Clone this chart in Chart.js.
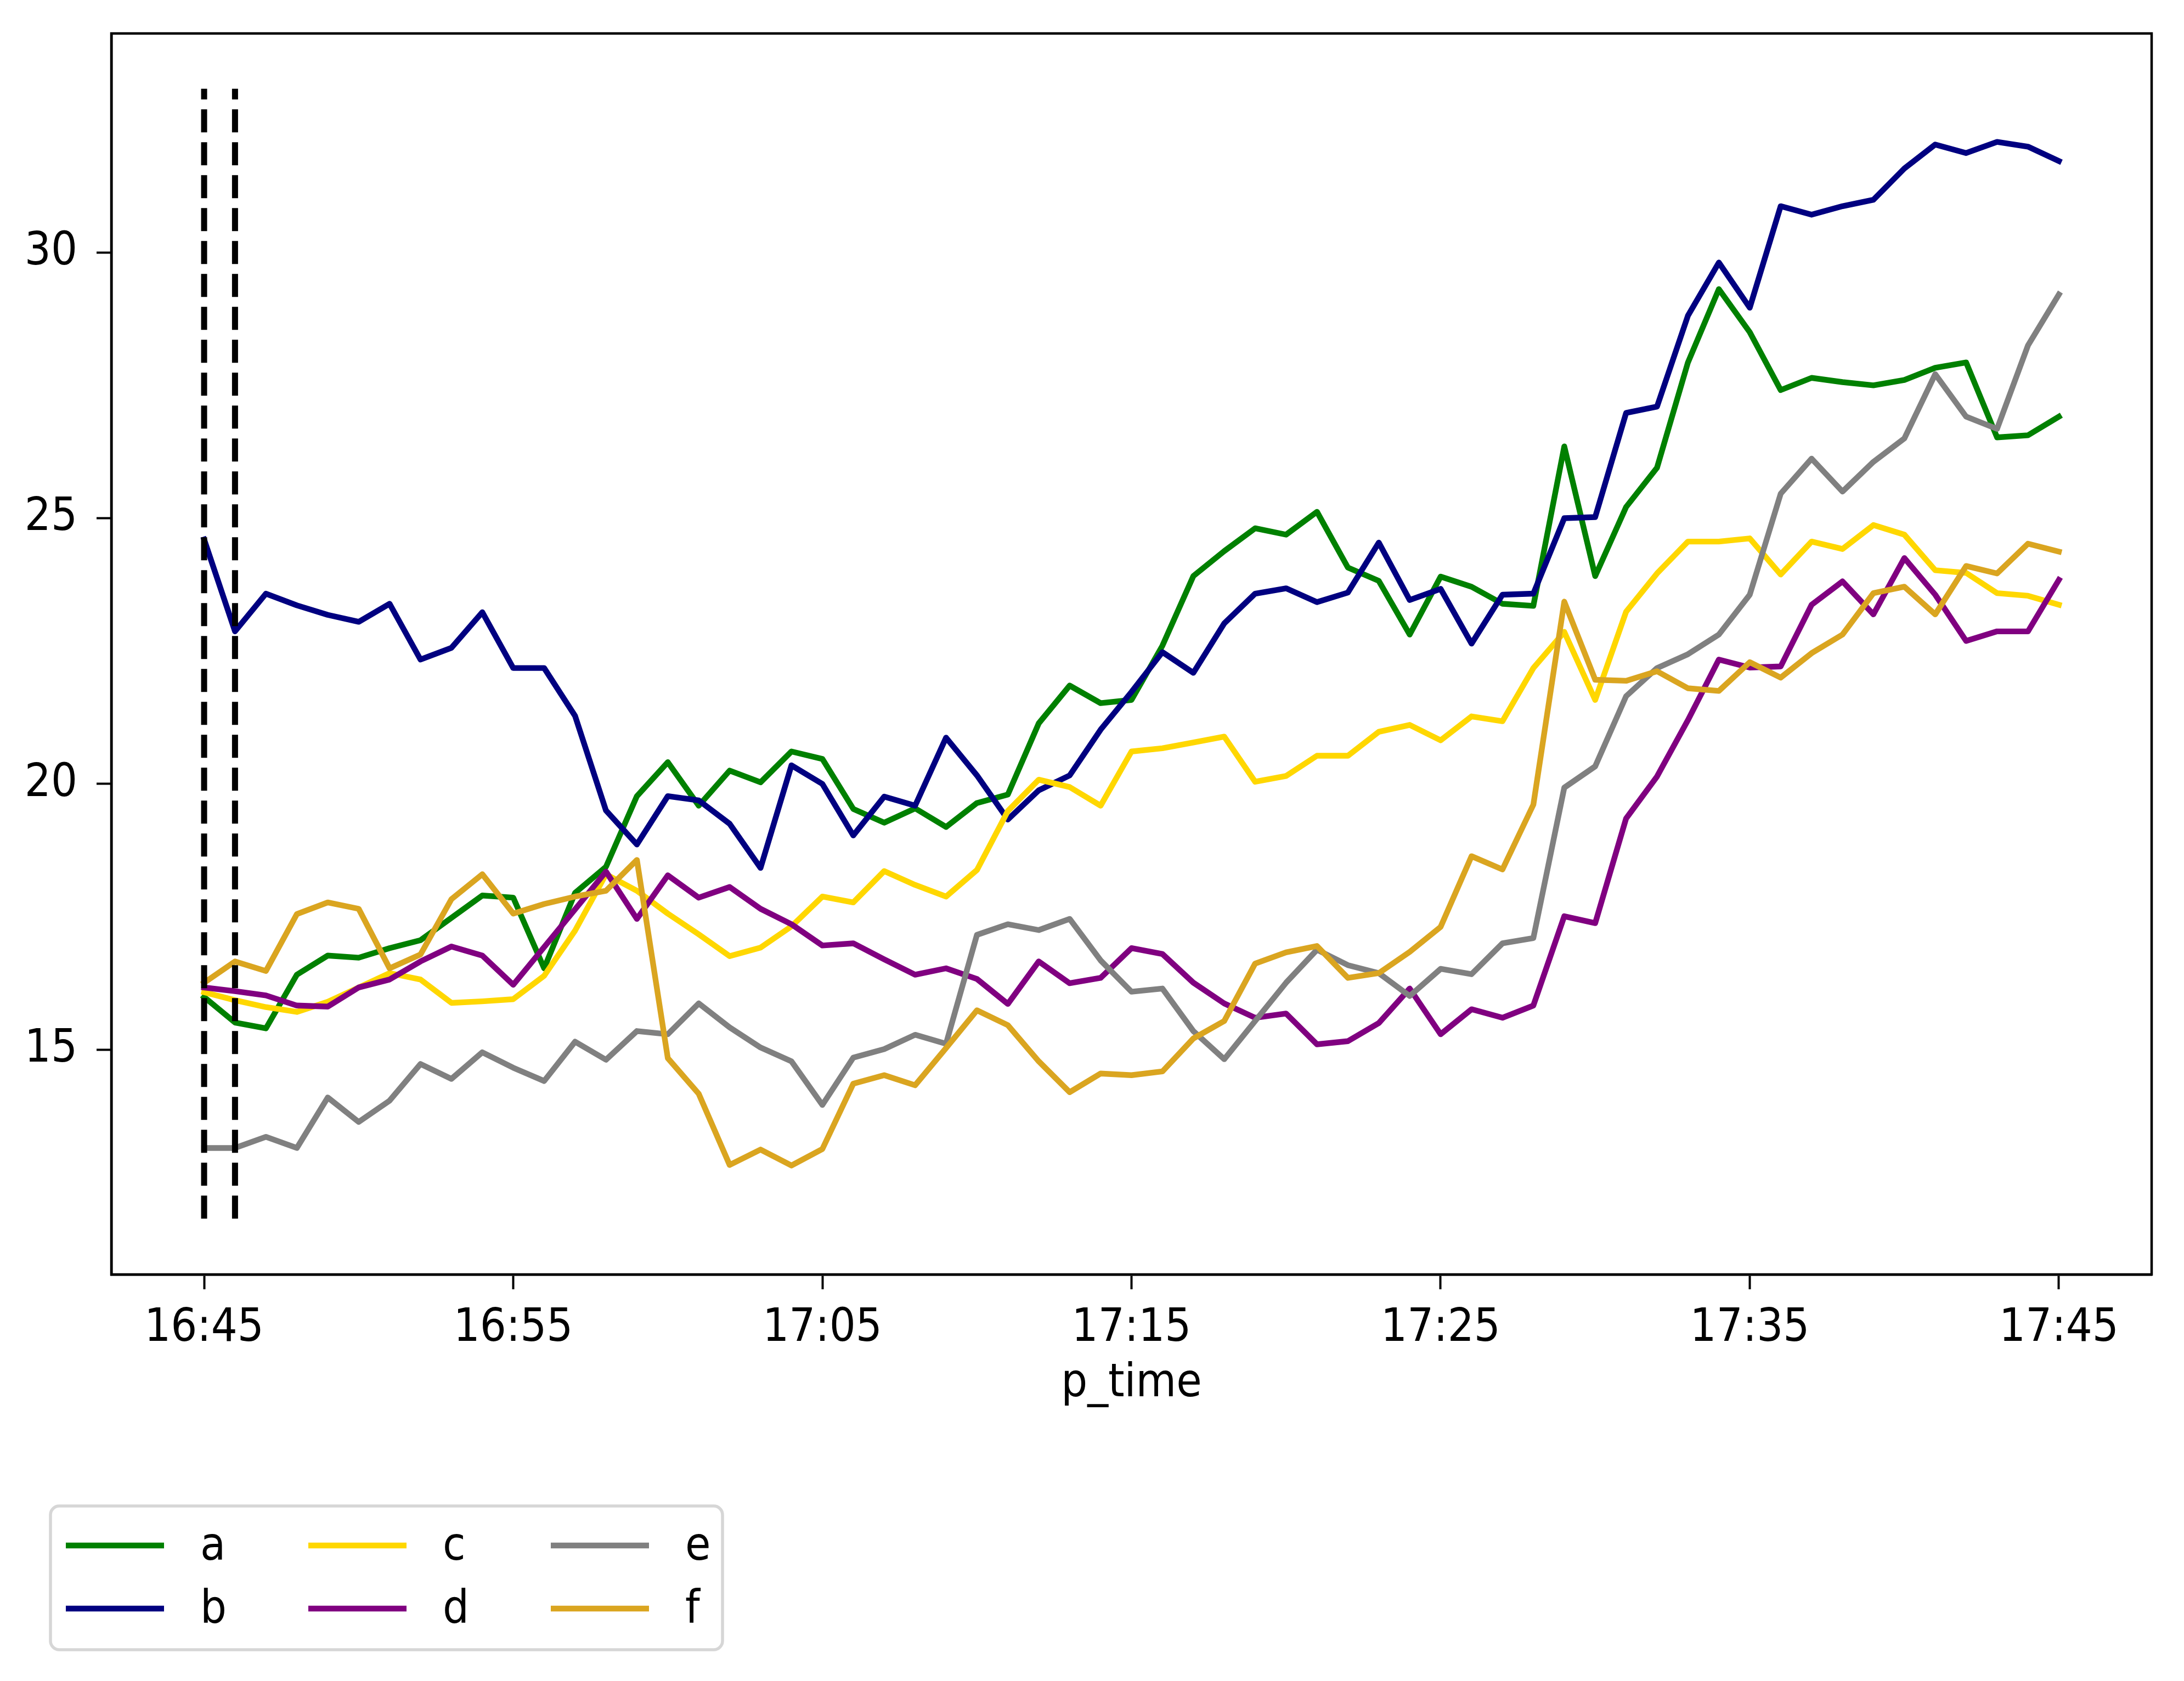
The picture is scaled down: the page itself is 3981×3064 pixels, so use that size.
<!DOCTYPE html>
<html>
<head>
<meta charset="utf-8">
<script src="https://cdn.jsdelivr.net/npm/chart.js@4.4.1/dist/chart.umd.min.js"></script>
<style>
  html, body { margin: 0; padding: 0; background: #fff; }
  canvas { display: block; }
</style>
</head>
<body>
<canvas id="chart" width="3981" height="3064"></canvas>
<script>
// una muestra por minuto, de 16:45 a 17:45 (61 valores por serie)
const xTickLabels = ['16:45', '16:55', '17:05', '17:15', '17:25', '17:35', '17:45'];
const yTicks = [15, 20, 25, 30];
const seriesNames = ['a', 'b', 'c', 'd', 'e', 'f'];
const seriesColors = ['#008000', '#000080', '#ffd700', '#800080', '#808080', '#daa520'];

const a = [15.99, 15.51, 15.40, 16.41, 16.77, 16.73, 16.91, 17.06, 17.48, 17.90,
           17.86, 16.53, 17.95, 18.44, 19.77, 20.41, 19.59, 20.25, 20.03, 20.61,
           20.47, 19.53, 19.27, 19.54, 19.19, 19.64, 19.80, 21.14, 21.85, 21.52,
           21.58, 22.60, 23.91, 24.38, 24.81, 24.69, 25.12, 24.07, 23.82, 22.81,
           23.90, 23.71, 23.39, 23.35, 26.35, 23.91, 25.21, 25.95, 27.93, 29.31,
           28.50, 27.41, 27.64, 27.56, 27.50, 27.60, 27.83, 27.93, 26.52, 26.56,
           26.91];
const b = [24.60, 22.87, 23.58, 23.36, 23.18, 23.05, 23.39, 22.34, 22.56, 23.23,
           22.18, 22.18, 21.28, 19.50, 18.86, 19.77, 19.69, 19.25, 18.42, 20.35,
           20.00, 19.03, 19.76, 19.59, 20.87, 20.16, 19.33, 19.88, 20.16, 21.02,
           21.73, 22.48, 22.09, 23.02, 23.58, 23.68, 23.42, 23.60, 24.54, 23.46,
           23.67, 22.64, 23.56, 23.58, 25.00, 25.02, 26.98, 27.10, 28.81, 29.81,
           28.96, 30.87, 30.71, 30.87, 30.99, 31.58, 32.03, 31.87, 32.08, 31.99,
           31.72];
const c = [16.08, 15.93, 15.80, 15.71, 15.90, 16.17, 16.44, 16.32, 15.88, 15.91,
           15.95, 16.39, 17.24, 18.30, 17.99, 17.56, 17.17, 16.76, 16.92, 17.32,
           17.88, 17.77, 18.36, 18.10, 17.88, 18.38, 19.49, 20.08, 19.94, 19.59,
           20.61, 20.67, 20.78, 20.89, 20.04, 20.15, 20.53, 20.53, 20.98, 21.11,
           20.82, 21.27, 21.18, 22.18, 22.86, 21.58, 23.24, 23.96, 24.56, 24.56,
           24.62, 23.94, 24.56, 24.42, 24.87, 24.69, 24.02, 23.97, 23.59, 23.54,
           23.37];
const d = [16.17, 16.10, 16.02, 15.83, 15.81, 16.17, 16.32, 16.66, 16.94, 16.77,
           16.22, 16.93, 17.64, 18.35, 17.46, 18.28, 17.86, 18.06, 17.65, 17.36,
           16.96, 17.00, 16.70, 16.41, 16.53, 16.33, 15.86, 16.66, 16.25, 16.35,
           16.91, 16.80, 16.26, 15.87, 15.60, 15.68, 15.10, 15.16, 15.50, 16.15,
           15.29, 15.76, 15.60, 15.83, 17.51, 17.38, 19.35, 20.14, 21.20, 22.34,
           22.19, 22.21, 23.37, 23.81, 23.19, 24.25, 23.56, 22.69, 22.87, 22.87,
           23.84];
const e = [13.15, 13.15, 13.36, 13.15, 14.10, 13.64, 14.04, 14.73, 14.45, 14.95,
           14.66, 14.41, 15.15, 14.81, 15.35, 15.29, 15.87, 15.42, 15.04, 14.78,
           13.96, 14.85, 15.01, 15.28, 15.11, 17.16, 17.36, 17.25, 17.46, 16.68,
           16.09, 16.15, 15.35, 14.82, 15.54, 16.26, 16.88, 16.59, 16.44, 16.01,
           16.52, 16.42, 17.00, 17.10, 19.93, 20.33, 21.65, 22.18, 22.44, 22.81,
           23.56, 25.46, 26.12, 25.50, 26.06, 26.50, 27.71, 26.91, 26.68, 28.25,
           29.21];
const f = [16.26, 16.66, 16.48, 17.55, 17.77, 17.65, 16.53, 16.79, 17.83, 18.30,
           17.56, 17.74, 17.88, 17.99, 18.57, 14.84, 14.17, 12.83, 13.12, 12.82,
           13.13, 14.36, 14.52, 14.33, 15.03, 15.74, 15.46, 14.78, 14.20, 14.55,
           14.52, 14.59, 15.21, 15.54, 16.62, 16.83, 16.95, 16.35, 16.44, 16.84,
           17.31, 18.64, 18.39, 19.61, 23.43, 21.96, 21.94, 22.12, 21.80, 21.75,
           22.29, 22.00, 22.46, 22.81, 23.59, 23.71, 23.19, 24.10, 23.96, 24.52,
           24.37];

// minutos marcados con lineas punteadas (16:45 y 16:46)
const markMinutes = [0, 1];

const seriesValues = [a, b, c, d, e, f];
const FONT = "'DejaVu Sans Condensed', 'DejaVu Sans', sans-serif";
const FONT_SIZE = 84;
const LINE_W = 10.4;

// las lineas punteadas van de min-1 a max+1 de todos los datos
const allValues = seriesValues.flat();
const markLow = Math.min(...allValues) - 1;
const markHigh = Math.max(...allValues) + 1;

const datasets = seriesValues.map((vals, k) => ({
    label: seriesNames[k],
    data: vals.map((v, i) => ({x: i, y: v})),
    borderColor: seriesColors[k],
    backgroundColor: seriesColors[k],
    borderWidth: LINE_W,
    borderJoinStyle: 'round',
    borderCapStyle: 'square',
    pointRadius: 0,
    tension: 0,
    order: seriesNames.length - k // la ultima serie queda arriba, como en matplotlib
}));

markMinutes.forEach(m => {
    datasets.push({
        label: '_mark',
        data: [{x: m, y: markLow}, {x: m, y: markHigh}],
        borderColor: '#000',
        borderWidth: 11,
        borderDash: [42, 18],
        borderCapStyle: 'butt',
        pointRadius: 0,
        order: 0
    });
});

// marco completo del area del grafico
const framePlugin = {
    id: 'frame',
    afterDatasetsDraw(chart) {
        const {ctx, chartArea: ca} = chart;
        ctx.save();
        ctx.strokeStyle = '#000';
        ctx.lineWidth = 4.5;
        ctx.strokeRect(ca.left, ca.top, ca.right - ca.left, ca.bottom - ca.top);
        ctx.restore();
    }
};

// leyenda de 3 columnas x 2 filas abajo a la izquierda
const legendPlugin = {
    id: 'gridLegend',
    afterDraw(chart) {
        const ctx = chart.ctx;
        const box = {x: 92, y: 2745, w: 1225, h: 262, r: 16};
        ctx.save();
        ctx.beginPath();
        ctx.roundRect(box.x, box.y, box.w, box.h, box.r);
        ctx.fillStyle = '#fff';
        ctx.fill();
        ctx.lineWidth = 5.5;
        ctx.strokeStyle = '#d6d6d6';
        ctx.stroke();

        const colX = [120, 562, 1004];
        const rowY = [2817, 2932];
        const items = chart.data.datasets.filter(ds => ds.label !== '_mark');
        ctx.font = FONT_SIZE + 'px ' + FONT;
        ctx.textBaseline = 'middle';
        ctx.textAlign = 'left';
        items.forEach((ds, k) => {
            const col = Math.floor(k / 2);
            const row = k % 2;
            const x = colX[col];
            const y = rowY[row];
            ctx.beginPath();
            ctx.moveTo(x, y);
            ctx.lineTo(x + 179, y);
            ctx.lineWidth = LINE_W;
            ctx.strokeStyle = ds.borderColor;
            ctx.lineCap = 'butt';
            ctx.stroke();
            ctx.fillStyle = '#000';
            ctx.fillText(ds.label, x + 245, y + 4);
        });
        ctx.restore();
    }
};

const config = {
    type: 'line',
    data: {datasets: datasets},
    options: {
        responsive: false,
        animation: false,
        devicePixelRatio: 1,
        layout: {padding: {left: 0, right: 59, top: 61, bottom: 490}},
        plugins: {
            legend: {display: false},
            tooltip: {enabled: false}
        },
        scales: {
            x: {
                type: 'linear',
                min: -3,
                max: 63,
                afterBuildTicks: (scale) => {
                    scale.ticks = xTickLabels.map((_, k) => ({value: k * 10}));
                },
                afterFit: (scale) => {
                    scale.height = 251;
                    scale.paddingLeft = 0;
                    scale.paddingRight = 0;
                },
                ticks: {
                    callback: (value) => xTickLabels[Math.round(value / 10)],
                    color: '#000',
                    padding: 22,
                    maxRotation: 0,
                    autoSkip: false,
                    font: {family: FONT, size: FONT_SIZE}
                },
                grid: {
                    drawOnChartArea: false,
                    drawTicks: true,
                    tickLength: 27,
                    tickWidth: 4,
                    tickColor: '#000'
                },
                border: {display: true, color: '#000', width: 4.5},
                title: {
                    display: true,
                    text: 'p_time',
                    color: '#000',
                    padding: {top: 0, bottom: 0},
                    font: {family: FONT, size: FONT_SIZE}
                }
            },
            y: {
                type: 'linear',
                min: 10.77,
                max: 34.12,
                afterBuildTicks: (scale) => {
                    scale.ticks = yTicks.map(v => ({value: v}));
                },
                afterFit: (scale) => {
                    scale.width = 203;
                    scale.paddingTop = 0;
                    scale.paddingBottom = 0;
                },
                ticks: {
                    color: '#000',
                    padding: 35,
                    font: {family: FONT, size: FONT_SIZE}
                },
                grid: {
                    drawOnChartArea: false,
                    drawTicks: true,
                    tickLength: 27,
                    tickWidth: 4,
                    tickColor: '#000'
                },
                border: {display: true, color: '#000', width: 4.5}
            }
        }
    },
    plugins: [framePlugin, legendPlugin]
};

const ctx = document.getElementById('chart').getContext('2d');
const chart = new Chart(ctx, config);
</script>
</body>
</html>
